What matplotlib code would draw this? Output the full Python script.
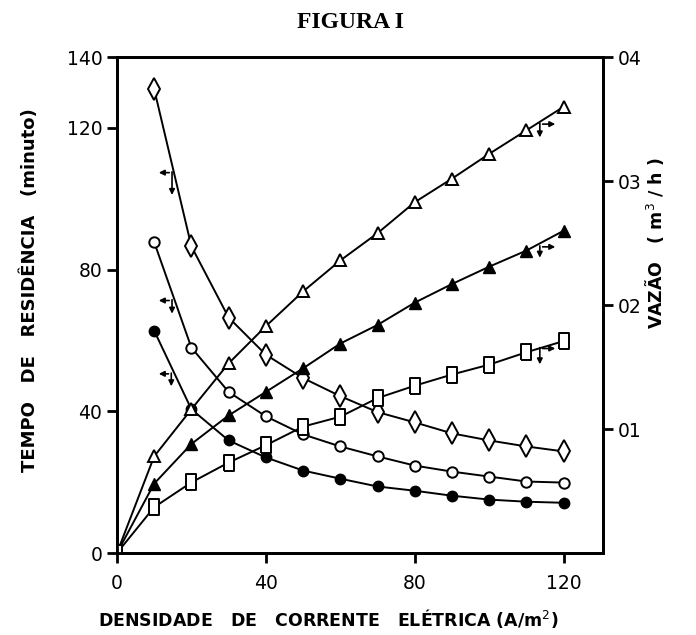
import matplotlib
matplotlib.use("Agg")
import matplotlib.pyplot as plt

# densidade de corrente (A/m2)
x_dec = [10, 20, 30, 40, 50, 60, 70, 80, 90, 100, 110, 120]
x_inc = [0, 10, 20, 30, 40, 50, 60, 70, 80, 90, 100, 110, 120]

# tempo de residencia (minuto) - eixo esquerdo
t_diamond = [131, 86.6, 66.5, 56, 49.4, 44.3, 39.8, 36.9, 33.8, 31.8, 30.1, 28.7]
t_open_circle = [87.8, 58, 45.5, 38.6, 33.5, 30.1, 27.3, 24.7, 23, 21.6, 20.2, 19.9]
t_filled_circle = [62.8, 40.6, 31.8, 27, 23.3, 21, 18.8, 17.6, 16.2, 15.1, 14.5, 14.2]

# vazao (m3/h) - eixo direito
q_open_tri = [0, 0.078, 0.116, 0.153, 0.183, 0.211, 0.236, 0.258, 0.283, 0.302, 0.322, 0.341, 0.360]
q_filled_tri = [0, 0.056, 0.088, 0.111, 0.130, 0.149, 0.169, 0.184, 0.202, 0.217, 0.231, 0.244, 0.260]
q_square = [0, 0.037, 0.057, 0.073, 0.087, 0.102, 0.110, 0.125, 0.135, 0.144, 0.152, 0.162, 0.171]

left_ticks = [0, 40, 80, 120, 140]
right_ticks = [0.1, 0.2, 0.3, 0.4]
right_labels = ["01", "02", "03", "04"]
x_ticks = [0, 40, 80, 120]

plt.rcParams["font.family"] = ["DejaVu Sans"]

fig = plt.figure(figsize=(6.96, 6.35), dpi=100)
ax = fig.add_axes([0.168, 0.129, 0.698, 0.781])
ax2 = ax.twinx()

rect = [(-0.3, -0.5), (0.3, -0.5), (0.3, 0.5), (-0.3, 0.5), (-0.3, -0.5)]
lw = 1.4
mew = 1.4

ax.plot(x_dec, t_diamond, color="black", lw=lw, marker="d", ms=11,
        mfc="white", mec="black", mew=mew)
ax.plot(x_dec, t_open_circle, color="black", lw=lw, marker="o", ms=7.5,
        mfc="white", mec="black", mew=mew)
ax.plot(x_dec, t_filled_circle, color="black", lw=lw, marker="o", ms=7.5,
        mfc="black", mec="black")

ax2.plot(x_inc, q_open_tri, color="black", lw=lw, marker="^", ms=8.5,
         mfc="white", mec="black", mew=mew, markevery=list(range(1, 13)))
ax2.plot(x_inc, q_filled_tri, color="black", lw=lw, marker="^", ms=8.5,
         mfc="black", mec="black", markevery=list(range(1, 13)))
ax2.plot(x_inc, q_square, color="black", lw=lw, marker=rect, ms=11,
         mfc="white", mec="black", mew=mew)

# indicadores de eixo (setas)
arr = dict(arrowstyle="-|>", color="black", lw=1.2, mutation_scale=8)
dec_marks = [(14.8, 107.4, 100.3), (14.8, 71.3, 66.8), (14.6, 50.6, 46.3)]
for xm, ym, yd in dec_marks:
    ax.annotate("", xy=(10.5, ym), xytext=(xm, ym), arrowprops=arr)
    ax.annotate("", xy=(xm, yd), xytext=(xm, ym + 1), arrowprops=arr)
inc_marks = [(113.6, 0.346, 0.333), (113.6, 0.247, 0.236), (113.6, 0.165, 0.150)]
for xm, ym, yd in inc_marks:
    ax2.annotate("", xy=(118.5, ym), xytext=(xm, ym), arrowprops=arr)
    ax2.annotate("", xy=(xm, yd), xytext=(xm, ym + 0.003), arrowprops=arr)

ax.set_xlim(0, 130.5)
ax.set_ylim(0, 140)
ax2.set_ylim(0, 0.4)

ax.set_xticks(x_ticks)
ax.set_yticks(left_ticks)
ax2.set_yticks(right_ticks)
ax2.set_yticklabels(right_labels)

for a in (ax, ax2):
    for s in a.spines.values():
        s.set_linewidth(2)
    a.tick_params(width=2, length=7, labelsize=13.5, direction="out")
ax.tick_params(axis="x", pad=8)

ax.set_ylabel("TEMPO   DE   RESIDÊNCIA   (minuto)", fontsize=13,
              fontweight="bold", va="center")
ax.yaxis.set_label_coords(-0.179, 0.53)
ax2.set_ylabel("VAZÃO   ( m$^3$ / h )", fontsize=12.5, fontweight="bold",
               va="center")
ax2.yaxis.set_label_coords(1.107, 0.625)
ax.set_xlabel("DENSIDADE   DE   CORRENTE   ELÉTRICA (A/m$^2$)", fontsize=12.5,
              fontweight="bold", va="center")
ax.xaxis.set_label_coords(0.434, -0.131)

fig.text(0.503, 0.965, "FIGURA I", ha="center", va="center", fontsize=17,
         fontweight="bold", family="Liberation Serif")

fig.savefig("out.png", dpi=100)
